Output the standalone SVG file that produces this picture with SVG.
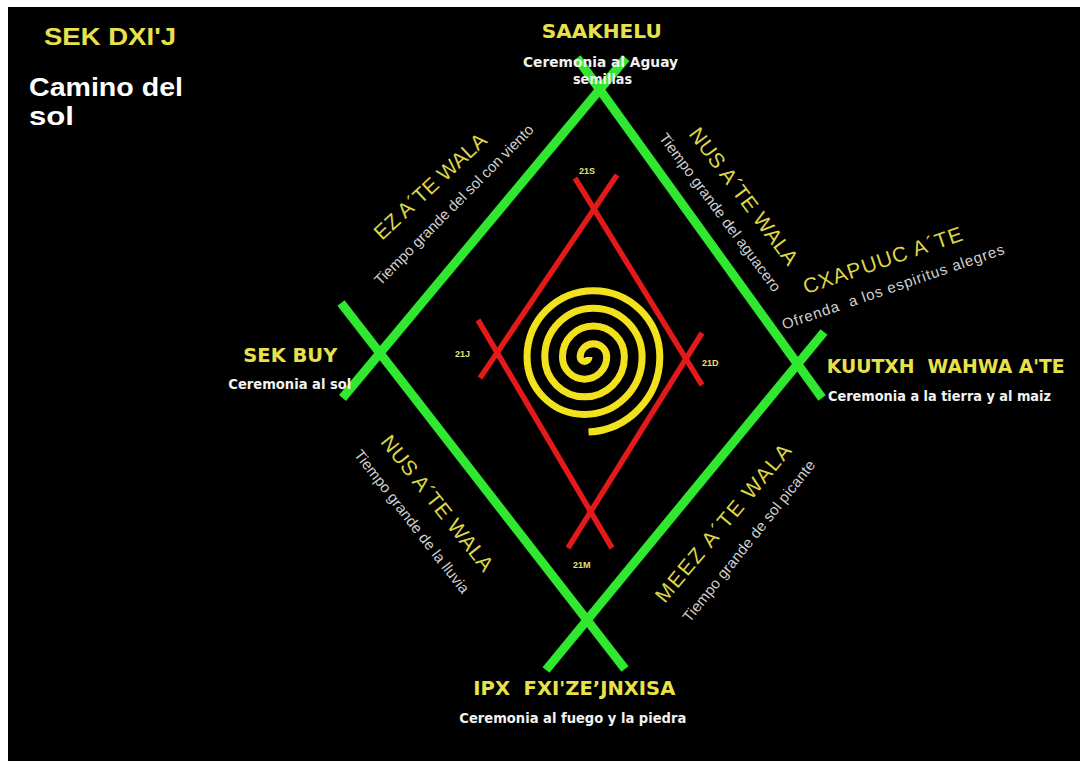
<svg xmlns="http://www.w3.org/2000/svg" width="1087" height="767" viewBox="0 0 1087 767">
<style>
.g{stroke:#2fe82f;stroke-width:9;fill:none}
.r{stroke:#e41a1a;stroke-width:5.5;fill:none}
.sp{stroke:#f2e21e;stroke-width:7;fill:none;stroke-linecap:butt}
.hd{font-family:"DejaVu Sans",Verdana,sans-serif;font-weight:bold;fill:#e8e24a}
.ds{font-family:"DejaVu Sans",Verdana,sans-serif;font-weight:bold;fill:#f2f2f2;font-size:14px}
.ry{font-family:"Liberation Sans",Arial,sans-serif;fill:#ddd648;font-size:21px}
.rg{font-family:"Liberation Sans",Arial,sans-serif;fill:#d0d0d0;font-size:15px}
.sm{font-family:"Liberation Sans",Arial,sans-serif;font-weight:bold;fill:#e8e070;font-size:9px}
.tl{font-family:"Liberation Sans",Arial,sans-serif;font-weight:bold}
</style>
<rect x="0" y="0" width="1087" height="767" fill="#ffffff"/>
<rect x="8" y="7" width="1072" height="754" fill="#000000"/>

<g id="title">
<text class="tl" x="44" y="45" font-size="23" fill="#e8e24a" textLength="132" lengthAdjust="spacingAndGlyphs">SEK DXI'J</text>
<text class="tl" x="29" y="96" font-size="25" fill="#ffffff" textLength="154" lengthAdjust="spacingAndGlyphs">Camino del</text>
<text class="tl" x="29" y="125" font-size="25" fill="#ffffff" textLength="45" lengthAdjust="spacingAndGlyphs">sol</text>
</g>

<g id="connectors">
<line class="g" x1="342.5" y1="398" x2="626" y2="58"/>
<line class="g" x1="577" y1="58" x2="822" y2="398"/>
<line class="g" x1="341" y1="303" x2="625" y2="669"/>
<line class="g" x1="546" y1="670" x2="824" y2="332"/>
<line class="r" x1="480" y1="378" x2="617" y2="175"/>
<line class="r" x1="575" y1="178" x2="702" y2="385"/>
<line class="r" x1="478" y1="320" x2="612" y2="548"/>
<line class="r" x1="568" y1="548" x2="702" y2="333"/>
</g>

<g id="spiral">
<path class="sp" d="M589,357 A4.425,4.425 0 0 1 580.15,357 A13.275,13.275 0 0 1 606.7,357 A22.125,22.125 0 0 1 562.45,357 A30.975,30.975 0 0 1 624.4,357 A39.825,39.825 0 0 1 544.75,357 A48.675,48.675 0 0 1 642.1,357 A57.525,57.525 0 0 1 527.05,357 A66.375,66.375 0 0 1 659.8,357 A75.225,75.225 0 0 1 588.5,432.1"/>
</g>

<g id="markers">
<text class="sm" x="579" y="174">21S</text>
<text class="sm" x="455" y="357">21J</text>
<text class="sm" x="702" y="366">21D</text>
<text class="sm" x="573" y="568">21M</text>
</g>

<g id="node-saakhelu">
<text class="hd" x="541.7" y="38.3" font-size="19" textLength="120" lengthAdjust="spacingAndGlyphs">SAAKHELU</text>
<text class="ds" x="600.5" y="67" text-anchor="middle" textLength="155" lengthAdjust="spacingAndGlyphs">Ceremonia al Aguay</text>
<text class="ds" x="602.5" y="84" text-anchor="middle" textLength="59" lengthAdjust="spacingAndGlyphs">semillas</text>
</g>

<g id="node-sekbuy">
<text class="hd" x="243.3" y="361.7" font-size="20" textLength="94" lengthAdjust="spacingAndGlyphs">SEK BUY</text>
<text class="ds" x="228.3" y="389" textLength="123" lengthAdjust="spacingAndGlyphs">Ceremonia al sol</text>
</g>

<g id="node-kuutxh">
<text class="hd" x="826.7" y="373.3" font-size="20" textLength="238" lengthAdjust="spacingAndGlyphs" xml:space="preserve">KUUTXH  WAHWA A'TE</text>
<text class="ds" x="828" y="400.5" textLength="223" lengthAdjust="spacingAndGlyphs">Ceremonia a la tierra y al maiz</text>
</g>

<g id="node-ipx">
<text class="hd" x="473.3" y="695" font-size="20" textLength="202" lengthAdjust="spacingAndGlyphs" xml:space="preserve">IPX  FXI'ZE’JNXISA</text>
<text class="ds" x="459.3" y="723" textLength="227" lengthAdjust="spacingAndGlyphs">Ceremonia al fuego y la piedra</text>
</g>

<g id="season-ez">
<text class="ry" transform="translate(430,186) rotate(-43)" x="0" y="7.5" text-anchor="middle" textLength="145">EZ A´TE WALA</text>
<text class="rg" transform="translate(454,205) rotate(-45.3)" x="0" y="5" text-anchor="middle" textLength="219">Tiempo grande del sol con viento</text>
</g>

<g id="season-nus-top">
<text class="ry" transform="translate(744,196) rotate(53)" x="0" y="7.5" text-anchor="middle" textLength="166">NUS A´TE WALA</text>
<text class="rg" transform="translate(720,212.5) rotate(53.4)" x="0" y="5" text-anchor="middle" textLength="193">Tiempo grande del aguacero</text>
</g>

<g id="node-cxapuuc">
<text class="ry" transform="translate(882.5,260) rotate(-19)" x="0" y="7.5" text-anchor="middle" textLength="167">CXAPUUC A´TE</text>
<text class="rg" transform="translate(893,287) rotate(-19)" x="0" y="5" text-anchor="middle" textLength="234" xml:space="preserve">Ofrenda  a los espiritus alegres</text>
</g>

<g id="season-nus-bottom">
<text class="ry" transform="translate(437.5,503) rotate(51.6)" x="0" y="7.5" text-anchor="middle" textLength="167">NUS A´TE WALA</text>
<text class="rg" transform="translate(411.7,521.7) rotate(52.2)" x="0" y="5" text-anchor="middle" textLength="177">Tiempo grande de la lluvia</text>
</g>

<g id="season-meez">
<text class="ry" transform="translate(722.5,522.5) rotate(-50.1)" x="0" y="8" font-size="22" text-anchor="middle" textLength="199">MEEZ A´TE WALA</text>
<text class="rg" transform="translate(749,541) rotate(-51.3)" x="0" y="5" text-anchor="middle" textLength="202">Tiempo grande de sol picante</text>
</g>
</svg>
